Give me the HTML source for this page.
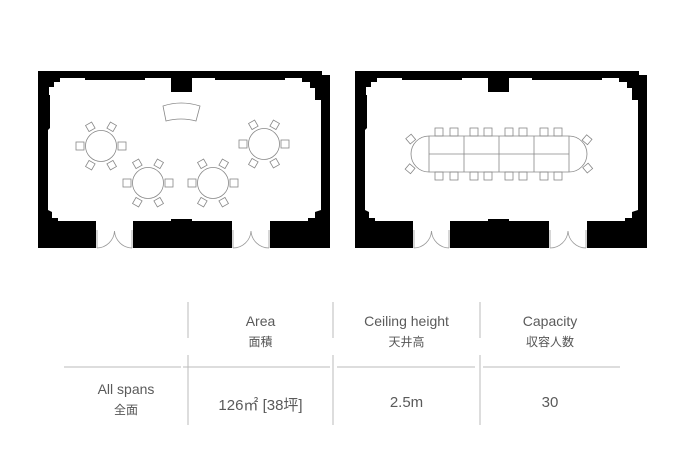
<!DOCTYPE html>
<html><head><meta charset="utf-8"><style>
body{margin:0;background:#fff;width:690px;height:471px;overflow:hidden;font-family:"Liberation Sans","Noto Sans CJK JP",sans-serif;color:#555}
svg{position:absolute;left:0;top:0}
.t{position:absolute;text-align:center;font-size:14px;color:#5a5a5a}
.c{font-size:12px;color:#555}
</style></head><body>
<svg width="690" height="471" viewBox="0 0 690 471">
<defs>
<g id="plan">
 <path fill="#000" fill-rule="evenodd" d="M38 71 H322 V75 H330 V248 H38 Z M49 87 L54 87 L54 82 L60 82 L60 78 L85 78 L85 80 L145 80 L145 78 L171 78 L171 92 L192 92 L192 78 L215 78 L215 80 L285 80 L285 78 L302 78 L302 82 L310 82 L310 88 L315 88 L315 100 L321 100 L321 210 L315 212 L315 218 L308 218 L308 221 L270 221 L270 248 L232 248 L232 221 L192 221 L192 219 L171 219 L171 221 L133 221 L133 248 L96 248 L96 221 L58 221 L58 218 L52 218 L52 212 L48 210 L48 130 L50 128 L50 95 L49 95 Z"/>
 <rect x="96" y="221" width="37" height="28" fill="#fff"/>
 <rect x="232" y="221" width="38" height="28" fill="#fff"/>
 <g fill="none" stroke="#999" stroke-width="0.8">
  <path d="M97 230 V248 M132 230 V248 M233 230 V248 M269 230 V248"/>
  <path d="M97 248 A18 18 0 0 0 114.5 231 M132 248 A18 18 0 0 1 114.5 231"/>
  <path d="M233 248 A18 18 0 0 0 251 231 M269 248 A18 18 0 0 1 251 231"/>
 </g>
</g>
<g id="rt" fill="none" stroke="#888" stroke-width="0.8">
 <circle r="15.5"/>
 <rect x="-25" y="-4" width="8" height="8"/><rect x="17" y="-4" width="8" height="8"/>
 <rect x="-14" y="-23" width="7" height="7" transform="rotate(-30 -10 -19)"/>
 <rect x="7" y="-23" width="7" height="7" transform="rotate(30 10 -19)"/>
 <rect x="-14" y="16" width="7" height="7" transform="rotate(30 -10 19)"/>
 <rect x="7" y="16" width="7" height="7" transform="rotate(-30 10 19)"/>
</g>
</defs>
<use href="#plan"/>
<use href="#plan" x="317"/>
<path d="M163 106 Q181 100 200 106 L196 121 Q181 117 166 121 Z" fill="none" stroke="#888" stroke-width="0.8"/>
<use href="#rt" x="101" y="146"/>
<use href="#rt" x="148" y="183"/>
<use href="#rt" x="213" y="183"/>
<use href="#rt" x="264" y="144"/>
<g fill="none" stroke="#888" stroke-width="0.8">
 <path d="M429 136 H569 A18 18 0 0 1 569 172 H429 A18 18 0 0 1 429 136 Z"/>
 <path d="M429 136 V172 M464 136 V172 M499 136 V172 M534 136 V172 M569 136 V172 M429 154 H569"/>
 <g id="ch">
  <rect x="435" y="128" width="8" height="8"/><rect x="450" y="128" width="8" height="8"/>
  <rect x="470" y="128" width="8" height="8"/><rect x="484" y="128" width="8" height="8"/>
  <rect x="505" y="128" width="8" height="8"/><rect x="519" y="128" width="8" height="8"/>
  <rect x="540" y="128" width="8" height="8"/><rect x="554" y="128" width="8" height="8"/>
 </g>
 <use href="#ch" y="44"/>
 <rect x="407" y="136" width="7" height="7" transform="rotate(-40 410 139)"/>
 <rect x="407" y="165" width="7" height="7" transform="rotate(40 410 168)"/>
 <rect x="584" y="136" width="7" height="7" transform="rotate(40 587 139)"/>
 <rect x="584" y="165" width="7" height="7" transform="rotate(-40 587 168)"/>
</g>
<g stroke="#bbb" stroke-width="1">
 <path d="M188 302 V338 M333 302 V338 M480 302 V338 M188 355 V425 M333 355 V425 M480 355 V425"/>
 <path d="M64 367 H181 M183 367 H330 M337 367 H475 M483 367 H620"/>
</g>
</svg>
<div class="t" style="left:188px;top:313px;width:145px">Area<br><span class="c" style="line-height:26px">面積</span></div>
<div class="t" style="left:333px;top:313px;width:147px">Ceiling height<br><span class="c" style="line-height:26px">天井高</span></div>
<div class="t" style="left:480px;top:313px;width:140px">Capacity<br><span class="c" style="line-height:26px">収容人数</span></div>
<div class="t" style="left:64px;top:381px;width:124px">All spans<br><span class="c" style="line-height:26px">全面</span></div>
<div class="t" style="left:188px;top:394px;width:145px;font-size:15px">126㎡ [38坪]</div>
<div class="t" style="left:333px;top:394px;width:147px;font-size:15px">2.5m</div>
<div class="t" style="left:480px;top:394px;width:140px;font-size:15px">30</div>
</body></html>
